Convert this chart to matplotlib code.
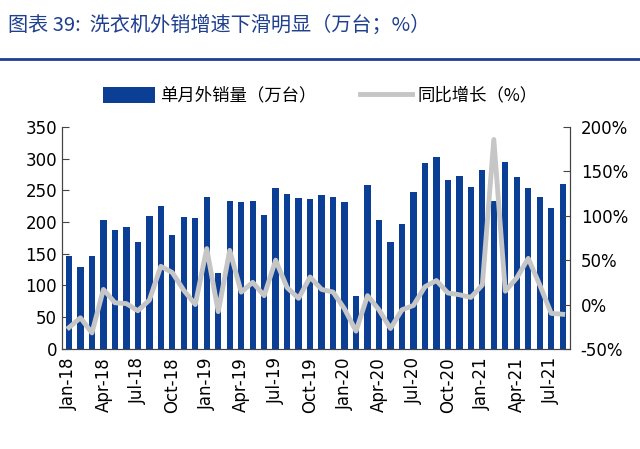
import numpy as np
import matplotlib.pyplot as plt
from matplotlib.ticker import FuncFormatter, MultipleLocator

plt.rcParams['font.family'] = ['DejaVu Sans', 'Noto Sans CJK SC']

# months Jan-18 .. Aug-21
months = ['Jan', 'Feb', 'Mar', 'Apr', 'May', 'Jun', 'Jul', 'Aug', 'Sep', 'Oct', 'Nov', 'Dec']
labels = []
for yr in ['18', '19', '20', '21']:
    for m in months:
        labels.append(m + '-' + yr)
labels = labels[:44]

# monthly export volume (10k units)
volume = [147, 129, 146, 204, 188, 193, 168, 209, 225, 180, 208, 206,
          240, 120, 234, 232, 233, 212, 254, 245, 238, 236, 243, 239,
          232, 84, 258, 203, 168, 197, 248, 293, 302, 266, 273, 256,
          282, 233, 295, 271, 254, 240, 222, 260]

# yoy growth (%)
growth = [-26, -15, -32, 17, 2, 1, -7, 5, 43, 36, 16, 0,
          63, -8, 61, 14, 25, 10, 50, 19, 7, 31, 17, 14,
          -5, -30, 10, -6, -27, -6, -1, 20, 27, 13, 11, 8,
          22, 186, 15, 30, 52, 22, -10, -11]

blue = '#0b3f95'
grey = '#c6c6c6'

fig = plt.figure(figsize=(6.4, 4.49), dpi=100)
ax = fig.add_axes([0.097, 0.223, 0.793, 0.494])
x = np.arange(len(volume))

ax.bar(x, volume, width=0.55, color=blue, label='单月外销量（万台）', zorder=2)
ax.set_ylim(0, 350)
ax.set_xlim(-0.6, len(volume) - 0.4)
ax.yaxis.set_major_locator(MultipleLocator(50))

ax2 = ax.twinx()
ax2.plot(x, np.array(growth) / 100, color=grey, lw=3.5, label='同比增长（%）', zorder=3)
ax2.set_ylim(-0.5, 2.0)
ax2.yaxis.set_major_locator(MultipleLocator(0.5))
ax2.yaxis.set_major_formatter(FuncFormatter(lambda v, p: '{:.0f}%'.format(v * 100)))

ax.set_xticks(x[::3])
ax.set_xticklabels(labels[::3], rotation=90)
ax.set_xticks(x, minor=True)

for a in (ax, ax2):
    a.spines['top'].set_visible(False)
    for s in a.spines.values():
        s.set_color('#444444')
    a.tick_params(labelsize=12, color='#444444', direction='in', length=4)
ax.tick_params(axis='x', which='both', direction='in', length=3, labelsize=12, pad=6)
ax.tick_params(axis='y', direction='in', length=5)
ax2.tick_params(axis='y', direction='in', length=5, pad=8)

h1, l1 = ax.get_legend_handles_labels()
h2, l2 = ax2.get_legend_handles_labels()
fig.legend(h1 + h2, l1 + l2, loc='center', bbox_to_anchor=(0.5, 0.787), ncol=2,
           frameon=False, handlelength=3.0, handleheight=1.1, handletextpad=0.3,
           columnspacing=2.5,
           prop={'family': ['Noto Sans CJK SC', 'DejaVu Sans'], 'size': 12.5})

fig.text(0.012, 0.945, '图表 39:  洗衣机外销增速下滑明显（万台；%）', color='#1f3f8f',
         fontsize=14.5, style='italic', family=['Noto Sans CJK SC', 'DejaVu Sans'], va='center')
fig.add_artist(plt.Line2D([0, 1], [0.868, 0.868], color='#1f3f8f', lw=2))

fig.savefig('out.png', dpi=100)
